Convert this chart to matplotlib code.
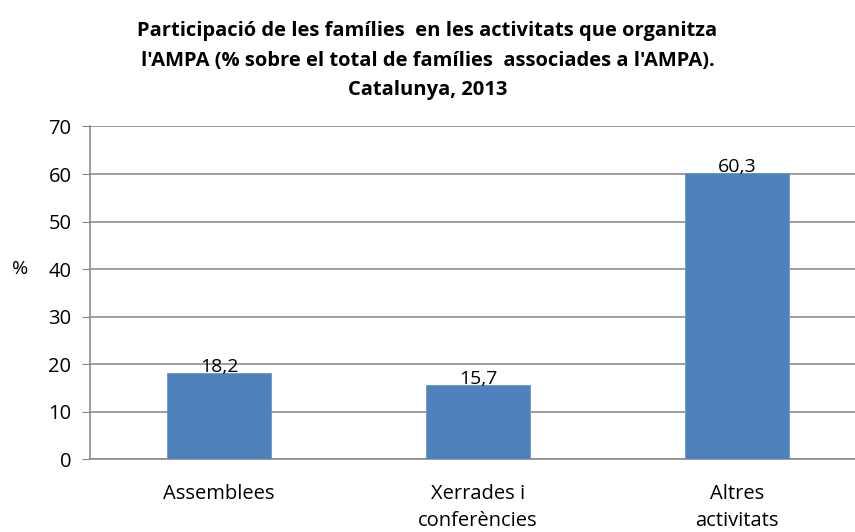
import numpy as np
import matplotlib.pyplot as plt

# Data
categories = ["Assemblees", "Xerrades i\nconferències", "Altres\nactivitats"]
values = [18.2, 15.7, 60.3]
value_labels = ["18,2", "15,7", "60,3"]
yticks = [0, 10, 20, 30, 40, 50, 60, 70]

plt.rcParams['font.family'] = ['Open Sans', 'DejaVu Sans']

fig = plt.figure(figsize=(8.55, 5.32), dpi=100)
ax = fig.add_axes([89.5 / 855, 0.1363, 1 - 89.5 / 855, 0.626])

x = np.arange(len(categories))
bars = ax.bar(x, values, width=0.4, color="#4F81BD", edgecolor="#6A96CC", linewidth=0.6, zorder=3)

for xi, v, lab in zip(x, values, value_labels):
    ax.text(xi, v - 0.7, lab, ha="center", va="bottom", fontsize=14, color="black", zorder=4)

ax.set_ylim(0, 70)
ax.set_xlim(-0.5, -0.5 + 765.5 / 259)
ax.set_yticks(yticks)
ax.set_xticks(x)
ax.set_xticklabels(categories, fontsize=14.5, linespacing=1.45)
ax.tick_params(axis="y", labelsize=14.5, length=6, color="#888888", direction="out", pad=7)
ax.tick_params(axis="x", length=0, pad=18)

ax.grid(axis="y", color="#8C8C8C", linewidth=1.2, zorder=0)
for s in ["top", "right"]:
    ax.spines[s].set_visible(False)
ax.spines["left"].set_color("#8C8C8C")
ax.spines["left"].set_linewidth(1.2)
ax.spines["bottom"].set_color("#8C8C8C")
ax.spines["bottom"].set_linewidth(1.2)

ax.set_ylabel("%", rotation=0, fontsize=14, va="center", ha="center")
ax.yaxis.set_label_coords(-0.091, 40 / 70)

fig.text(0.5, 0.96,
         "Participació de les famílies  en les activitats que organitza\n"
         "l'AMPA (% sobre el total de famílies  associades a l'AMPA).\n"
         "Catalunya, 2013",
         ha="center", va="top", fontsize=14.5, fontweight="bold", linespacing=1.62)

fig.savefig("out.png", dpi=100)
